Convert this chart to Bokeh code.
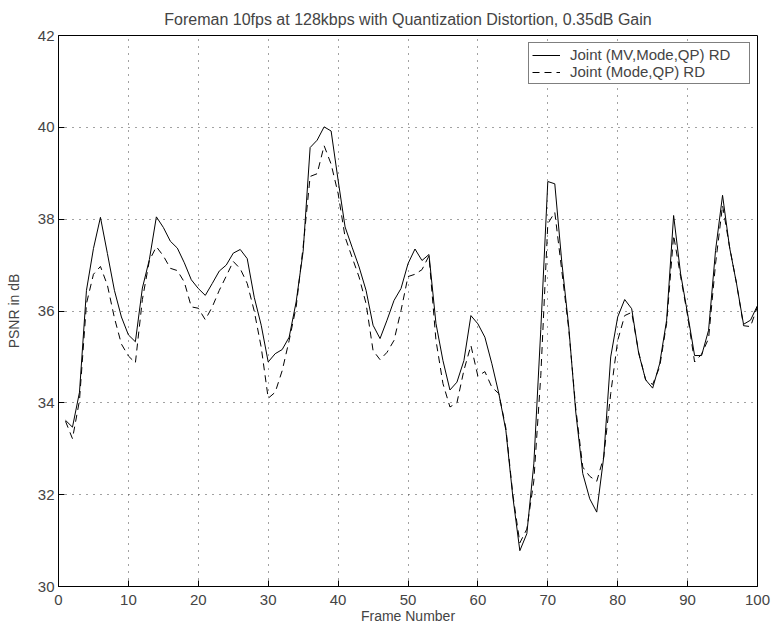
from bokeh.plotting import figure
from bokeh.models import Range1d, Legend, LegendItem, FixedTicker
from bokeh.embed import file_html
from bokeh.resources import INLINE

frames = list(range(1, 101))

psnr_mv_mode_qp = [
    33.62, 33.47, 34.23, 36.45, 37.36, 38.04, 37.25, 36.45, 35.87, 35.48,
    35.33, 36.50, 37.12, 38.05, 37.82, 37.52, 37.37, 37.05, 36.68, 36.49,
    36.34, 36.60, 36.87, 37.00, 37.26, 37.34, 37.14, 36.30, 35.69, 34.89,
    35.07, 35.16, 35.43, 36.20, 37.30, 39.56, 39.72, 40.01, 39.92, 38.85,
    37.83, 37.39, 36.96, 36.45, 35.69, 35.40, 35.80, 36.23, 36.49, 37.03,
    37.35, 37.10, 37.23, 35.73, 34.92, 34.28, 34.45, 34.92, 35.90, 35.72,
    35.43, 34.85, 34.20, 33.40, 31.95, 30.78, 31.15, 32.67, 35.60, 38.82,
    38.77, 37.07, 35.65, 33.80, 32.46, 31.91, 31.62, 32.82, 35.00, 35.87,
    36.25, 36.05, 35.08, 34.50, 34.32, 34.85, 35.80, 38.08, 36.81, 35.94,
    35.03, 35.03, 35.58, 37.32, 38.52, 37.39, 36.60, 35.71, 35.80, 36.12,
]

psnr_mode_qp = [
    33.60, 33.22, 34.05, 36.16, 36.80, 36.97, 36.56, 35.85, 35.28, 35.02,
    34.87, 36.25, 37.10, 37.40, 37.20, 36.93, 36.88, 36.63, 36.09, 36.06,
    35.81, 36.09, 36.45, 36.76, 37.08, 36.92, 36.60, 36.00, 35.21, 34.10,
    34.23, 34.70, 35.36, 36.09, 37.40, 38.93, 38.99, 39.60, 39.20, 38.56,
    37.61, 37.17, 36.74, 36.16, 35.14, 34.94, 35.10, 35.36, 36.01, 36.75,
    36.80, 36.90, 37.20, 35.36, 34.42, 33.91, 34.00, 34.71, 35.25, 34.58,
    34.68, 34.34, 34.20, 33.45, 32.00, 30.95, 31.25, 32.30, 34.60, 37.90,
    38.15, 36.88, 35.60, 33.88, 32.60, 32.40, 32.29, 32.82, 34.20, 35.36,
    35.90, 35.97, 35.10, 34.50, 34.40, 34.78, 35.73, 37.65, 36.75, 35.90,
    34.89, 35.06, 35.40, 37.03, 38.30, 37.40, 36.60, 35.68, 35.66, 36.10,
]

x_ticks = [0, 10, 20, 30, 40, 50, 60, 70, 80, 90, 100]
y_ticks = [30, 32, 34, 36, 38, 40, 42]

title_text = "Foreman 10fps at 128kbps with Quantization Distortion, 0.35dB Gain"
series_names = ["Joint (MV,Mode,QP) RD", "Joint (Mode,QP) RD"]

FONT = "Liberation Sans"

p = figure(width=772, height=627, x_range=Range1d(0, 100), y_range=Range1d(30, 42),
           output_backend="svg", toolbar_location=None, title=title_text,
           min_border_left=58, min_border_right=15, min_border_top=35, min_border_bottom=41)

p.background_fill_color = "white"
p.border_fill_color = "white"
p.outline_line_color = "black"
p.outline_line_width = 1

p.title.text_font = FONT
p.title.text_font_size = "16px"
p.title.text_font_style = "normal"
p.title.align = "center"
p.title.standoff = 15

for ax in (p.xaxis[0], p.yaxis[0]):
    ax.major_label_text_font = FONT
    ax.major_label_text_font_size = "15px"
    ax.axis_label_text_font = FONT
    ax.axis_label_text_font_size = "14px"
    ax.axis_label_text_font_style = "normal"
    ax.major_tick_in = 6
    ax.major_tick_out = 0
    ax.minor_tick_in = 0
    ax.minor_tick_out = 0
    ax.axis_line_color = "black"
    ax.major_tick_line_color = "black"

p.xaxis.major_label_standoff = 8
p.xaxis.axis_label_standoff = 0
p.yaxis.major_label_standoff = 4
p.yaxis.axis_label_standoff = 13

p.xaxis.ticker = FixedTicker(ticks=x_ticks)
p.yaxis.ticker = FixedTicker(ticks=y_ticks)
p.xaxis.axis_label = "Frame Number"
p.yaxis.axis_label = "PSNR in dB"

for g in (p.xgrid[0], p.ygrid[0]):
    g.grid_line_color = "#444444"
    g.grid_line_dash = "1 6"
    g.grid_line_width = 1
p.xgrid.ticker = FixedTicker(ticks=x_ticks)
p.ygrid.ticker = FixedTicker(ticks=y_ticks)

r1 = p.line(frames, psnr_mv_mode_qp, line_color="black", line_width=1)
r2 = p.line(frames, psnr_mode_qp, line_color="black", line_width=1, line_dash="7 5")

legend = Legend(items=[LegendItem(label=series_names[0], renderers=[r1]),
                       LegendItem(label=series_names[1], renderers=[r2])],
                location="top_right")
legend.label_text_font = FONT
legend.label_text_font_size = "15px"
legend.border_line_color = "black"
legend.border_line_width = 1
legend.background_fill_color = "white"
legend.background_fill_alpha = 1
legend.padding = 3
legend.spacing = 0
legend.margin = 7
legend.label_height = 16
legend.glyph_height = 16
legend.glyph_width = 28
legend.label_standoff = 10
legend.label_width = 176
p.add_layout(legend, "center")

open("out.html", "w").write(file_html(p, INLINE))
